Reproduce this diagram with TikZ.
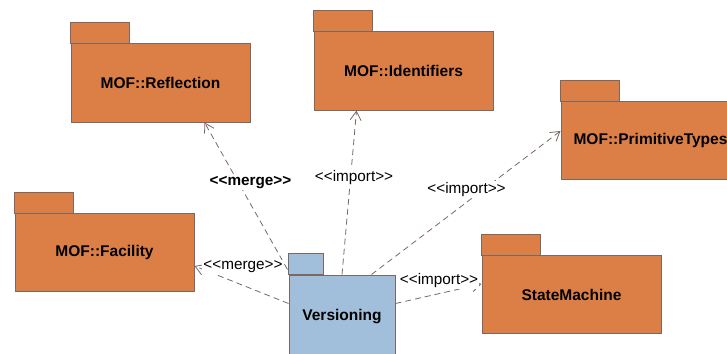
\documentclass[tikz,border=0pt]{standalone}
\usepackage{fontspec}
\setmainfont{Liberation Sans}
\usetikzlibrary{arrows.meta,calc}
\definecolor{pkgorange}{HTML}{DC7F47}
\definecolor{pkgblue}{HTML}{A1BFDA}
\definecolor{edgec}{HTML}{7B6763}
\begin{document}
\begin{tikzpicture}[x=1pt,y=-1pt,
  pkgbody/.style={draw=edgec, line width=1pt, minimum width=179pt, minimum height=78pt,
    inner sep=0pt, font=\fontsize{15.5}{18}\selectfont\bfseries},
  tabst/.style={draw=edgec, line width=1pt},
  dep/.style={draw=edgec, line width=0.8pt, dash pattern=on 6pt off 4pt,
    -{Straight Barb[length=9pt,width=11pt]}},
  deplabel/.style={fill=white, inner sep=1pt, font=\fontsize{15.3}{18}\selectfont},
]
\useasboundingbox (0,0) rectangle (727,353);
% packages
\node[pkgbody, fill=pkgorange] (refl)  at (160.5,83)   {MOF::Reflection};
\node[pkgbody, fill=pkgorange] (ident) at (403.5,71)   {MOF::Identifiers};
\node[pkgbody, fill=pkgorange] (prim)  at (650.5,140.5) {MOF::PrimitiveTypes};
\node[pkgbody, fill=pkgorange] (fac)   at (104.5,252.5) {MOF::Facility};
\node[pkgbody, fill=pkgorange] (sm)    at (571.5,294.5) {StateMachine};
\node[pkgbody, fill=pkgblue, minimum width=106pt, minimum height=84pt] (ver) at (342,317) {Versioning};
% tabs
\draw[tabst, fill=pkgorange] (refl.north west)  rectangle ++(59,-21);
\draw[tabst, fill=pkgorange] (ident.north west) rectangle ++(59,-21);
\draw[tabst, fill=pkgorange] (prim.north west)  rectangle ++(59,-21);
\draw[tabst, fill=pkgorange] (fac.north west)   rectangle ++(59,-21);
\draw[tabst, fill=pkgorange] (sm.north west)    rectangle ++(59,-21);
\draw[tabst, fill=pkgblue]   (ver.north west)   rectangle ++(35,-21);
% connectors
\coordinate (v1) at ($(ver.north west)+(-1,-5)$);
\coordinate (v2) at ($(ver.north)+(0,0)$);
\coordinate (v3) at ($(ver.north west)+(83,0)$);
\coordinate (v4) at ($(ver.north west)+(0,29)$);
\coordinate (v5) at ($(ver.north east)+(0,29)$);
\coordinate (e1) at ($(refl.south west)+(134,0)$);
\coordinate (e2) at ($(ident.south west)+(43,0)$);
\coordinate (e3) at ($(prim.north west)+(0,30)$);
\coordinate (e4) at ($(fac.north east)+(0,53)$);
\coordinate (e5) at ($(sm.north west)+(0,29)$);
\draw[dep] (v1) -- (e1);
\draw[dep] (v2) -- (e2);
\draw[dep] (v3) -- (e3);
\draw[dep] (v4) -- (e4);
\draw[dep] (v5) -- (e5);
% labels
\node[deplabel, font=\fontsize{15.3}{18}\selectfont\bfseries] (m1) at (250.5,183) {<{}<merge>{}>};
\node[deplabel] (i1) at (354,177.5) {<{}<import>{}>};
\node[deplabel] (i2) at (466.5,189.5) {<{}<import>{}>};
\node[deplabel] (m2) at (243,267) {<{}<merge>{}>};
\node[deplabel] (i3) at (439,281) {<{}<import>{}>};
\end{tikzpicture}
\end{document}
